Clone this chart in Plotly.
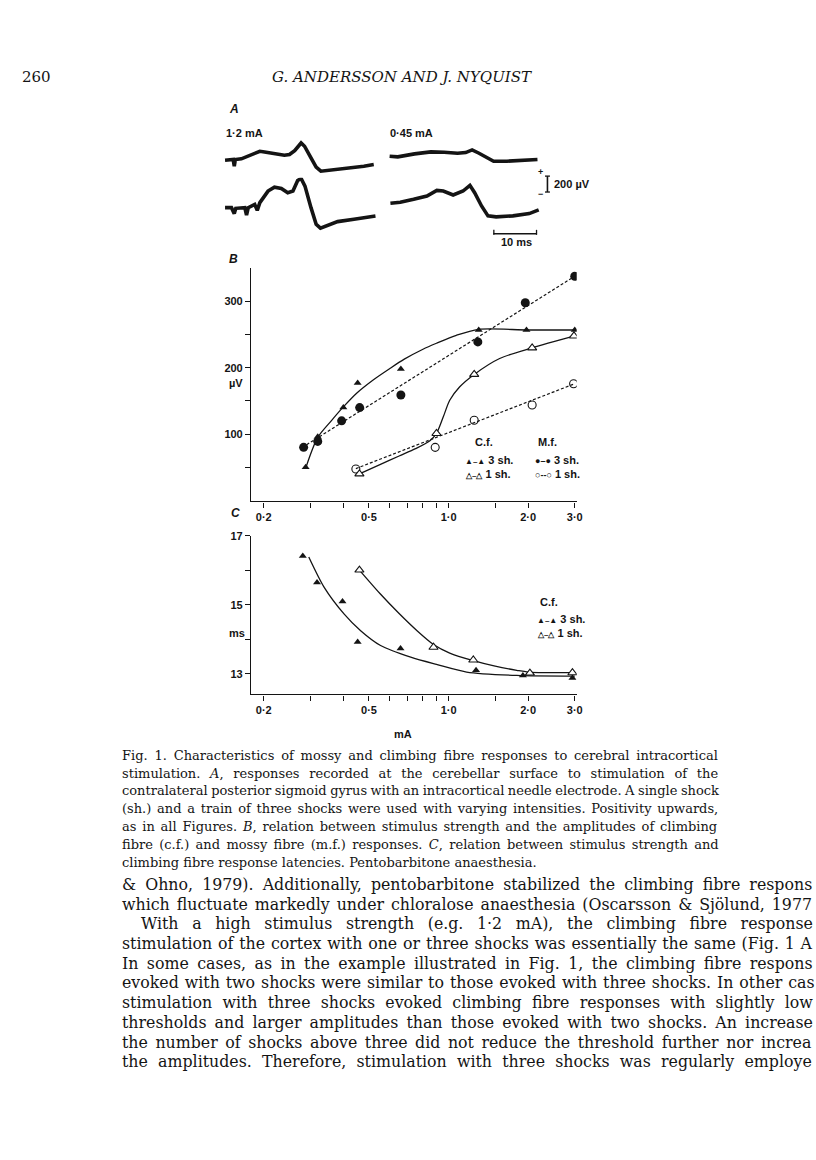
"""Fig. 1 page (Andersson & Nyquist) — mossy/climbing fibre responses vs stimulus strength."""
import plotly.graph_objects as go

W, H = 816, 1160

# --- Panel A: averaged surface recordings (ms, uV) ---
a12_3sh_t = [0, 1.9, 2.15, 2.4, 3.8, 6.2, 8.1, 9.2, 11.5, 13.8, 15.0, 16.2, 17.7, 18.5, 20.0, 21.2, 22.3, 24.6, 28.5, 32.3, 34.6]
a12_3sh_v = [0, 9, -80, 9, 18, 76, 120, 111, 84, 67, 76, 129, 231, 187, 31, -93, -147, -133, -102, -80, -58]
a12_1sh_t = [0, 1.5, 2.15, 2.5, 4.6, 5.0, 5.4, 6.9, 7.5, 8.1, 10.0, 11.5, 13.1, 14.6, 15.8, 16.9, 17.7, 18.6, 20.0, 21.2, 22.2, 23.5, 26.2, 30.0, 35.0]
a12_1sh_v = [0, 0, -80, -9, 0, -98, 0, 44, -36, 67, 222, 275, 258, 200, 222, 364, 391, 289, 0, -222, -275, -244, -187, -155, -111]
a045_3sh_t = [0, 1.9, 5.8, 9.6, 12.7, 15.8, 17.7, 19.2, 20.8, 22.7, 24.2, 27.3, 31.2, 34.4]
a045_3sh_v = [0, -9, 31, 58, 53, 40, 49, 84, 40, -22, -67, -67, -53, -44]
a045_1sh_t = [0, 2.3, 5.4, 8.5, 10.8, 12.3, 14.6, 16.9, 18.5, 19.6, 21.2, 22.7, 24.6, 28.5, 32.3, 34.5]
a045_1sh_v = [0, 13, 53, 98, 173, 164, 111, 164, 240, 142, -36, -169, -182, -169, -138, -89]

# --- Panel B: amplitudes (uV) vs stimulus (mA) ---
cf3_mA = [0.288, 0.32, 0.40, 0.453, 0.66, 1.30, 1.97, 3.0]
cf3_uV = [50, 96, 140, 177, 198, 257, 257, 257]
cf1_mA = [0.46, 0.90, 1.25, 2.07, 2.98]
cf1_uV = [40, 101, 190, 230, 248]
mf3_mA = [0.283, 0.32, 0.394, 0.461, 0.66, 1.29, 1.95, 3.0]
mf3_uV = [80, 89, 120, 140, 159, 239, 298, 338]
mf1_mA = [0.446, 0.89, 1.25, 2.07, 2.97]
mf1_uV = [47.5, 80, 121, 144, 176]

# hand-drawn fit curves
cf3_fit_mA = [0.29, 0.32, 0.36, 0.40, 0.45, 0.52, 0.60, 0.68, 0.80, 0.90, 1.07, 1.30, 2.0, 3.0]
cf3_fit_uV = [52, 95, 120, 141, 162, 182, 199, 213, 228, 237, 249, 258, 257, 257]
cf1_fit_mA = [0.46, 0.55, 0.65, 0.75, 0.85, 0.90, 0.955, 1.01, 1.10, 1.25, 1.56, 2.07, 3.0]
cf1_fit_uV = [40, 54, 67, 78, 90, 101, 126, 151, 171, 190, 214, 230, 248]
mf3_fit_mA = [0.28, 3.0]
mf3_fit_uV = [80, 338]
mf1_fit_mA = [0.446, 3.0]
mf1_fit_uV = [48, 176]

# --- Panel C: latencies (ms) ---
lat3_mA = [0.281, 0.318, 0.397, 0.453, 0.658, 1.27, 1.91, 2.94]
lat3_ms = [16.42, 15.65, 15.10, 13.92, 13.73, 13.10, 12.95, 12.88]
lat1_mA = [0.46, 0.877, 1.24, 2.03, 2.94]
lat1_ms = [16.01, 13.77, 13.40, 13.02, 13.03]
lat3_fit_mA = [0.296, 0.339, 0.403, 0.465, 0.553, 0.719, 0.90, 1.17, 1.81, 3.0]
lat3_fit_ms = [16.39, 15.5, 14.73, 14.25, 13.82, 13.48, 13.27, 13.05, 12.95, 12.93]
lat1_fit_mA = [0.46, 0.55, 0.65, 0.76, 0.877, 1.01, 1.24, 1.5, 1.81, 2.0, 3.0]
lat1_fit_ms = [16.01, 15.33, 14.75, 14.25, 13.85, 13.6, 13.38, 13.22, 13.1, 13.05, 13.03]

x_tickvals = [0.2, 0.3, 0.4, 0.5, 0.6, 0.7, 0.8, 0.9, 1.0, 1.5, 2.0, 3.0]
x_ticktext = ["0·2", "", "", "0·5", "", "", "", "", "1·0", "", "2·0", "3·0"]
b_tickvals = [50, 100, 150, 200, 250, 300]
b_ticktext = ["", "100", "", "200", "", "300"]
c_tickvals = [13, 14, 15, 16, 17]
c_ticktext = ["13", "", "15", "", "17"]

caption = [
    "Fig. 1. Characteristics of mossy and climbing fibre responses to cerebral intracortical",
    "stimulation. <i>A</i>, responses recorded at the cerebellar surface to stimulation of the",
    "contralateral posterior sigmoid gyrus with an intracortical needle electrode. A single shock",
    "(sh.) and a train of three shocks were used with varying intensities. Positivity upwards,",
    "as in all Figures. <i>B</i>, relation between stimulus strength and the amplitudes of climbing",
    "fibre (c.f.) and mossy fibre (m.f.) responses. <i>C</i>, relation between stimulus strength and",
    "climbing fibre response latencies. Pentobarbitone anaesthesia.",
]
body = [
    "& Ohno, 1979). Additionally, pentobarbitone stabilized the climbing fibre respons",
    "which fluctuate markedly under chloralose anaesthesia (Oscarsson & Sjölund, 1977",
    "With a high stimulus strength (e.g. 1·2 mA), the climbing fibre response",
    "stimulation of the cortex with one or three shocks was essentially the same (Fig. 1 A",
    "In some cases, as in the example illustrated in Fig. 1, the climbing fibre respons",
    "evoked with two shocks were similar to those evoked with three shocks. In other cas",
    "stimulation with three shocks evoked climbing fibre responses with slightly low",
    "thresholds and larger amplitudes than those evoked with two shocks. An increase",
    "the number of shocks above three did not reduce the threshold further nor increa",
    "the amplitudes. Therefore, stimulation with three shocks was regularly employe",
]
# extra word spacing (px) so the justified lines reach the right margin
caption_wordspace = [2.7, 5.6, -0.6, 1.6, 1.7, 2.2, 0]
body_wordspace = [4.1, 1.9, 8.6, 0.8, 3.4, 0.9, 5.2, 3.1, 2.5, 5.2]

SANS = "Liberation Sans, Arial, sans-serif"
SERIF = "DejaVu Serif, serif"
INK = "#141414"


def px(x):
    return x / W


def py(y):
    # page pixel rows -> paper fraction (small correction for the page offset)
    return 1 - (y - 4) / H


fig = go.Figure()

# panel B
fig.add_trace(go.Scatter(x=mf3_fit_mA, y=mf3_fit_uV, mode="lines",
                         line=dict(color=INK, width=1.2, dash="3px,2px"), xaxis="x", yaxis="y"))
fig.add_trace(go.Scatter(x=mf1_fit_mA, y=mf1_fit_uV, mode="lines",
                         line=dict(color=INK, width=1.2, dash="3px,2px"), xaxis="x", yaxis="y"))
fig.add_trace(go.Scatter(x=cf3_fit_mA, y=cf3_fit_uV, mode="lines", line_shape="spline",
                         line=dict(color=INK, width=1.3, smoothing=0.8), xaxis="x", yaxis="y"))
fig.add_trace(go.Scatter(x=cf1_fit_mA, y=cf1_fit_uV, mode="lines", line_shape="spline",
                         line=dict(color=INK, width=1.3, smoothing=0.8), xaxis="x", yaxis="y"))
fig.add_trace(go.Scatter(x=mf3_mA, y=mf3_uV, mode="markers",
                         marker=dict(symbol="circle", size=9, color=INK), xaxis="x", yaxis="y"))
fig.add_trace(go.Scatter(x=mf1_mA, y=mf1_uV, mode="markers",
                         marker=dict(symbol="circle-open", size=8, color=INK, line=dict(width=1.1)),
                         xaxis="x", yaxis="y"))
fig.add_trace(go.Scatter(x=cf3_mA, y=cf3_uV, mode="markers",
                         marker=dict(symbol="triangle-up", size=7, color=INK), xaxis="x", yaxis="y"))
fig.add_trace(go.Scatter(x=cf1_mA, y=cf1_uV, mode="markers",
                         marker=dict(symbol="triangle-up", size=8, color="white", line=dict(color=INK, width=1.1)),
                         xaxis="x", yaxis="y"))

# panel C
fig.add_trace(go.Scatter(x=lat3_fit_mA, y=lat3_fit_ms, mode="lines", line_shape="spline",
                         line=dict(color=INK, width=1.3, smoothing=0.8), xaxis="x2", yaxis="y2"))
fig.add_trace(go.Scatter(x=lat1_fit_mA, y=lat1_fit_ms, mode="lines", line_shape="spline",
                         line=dict(color=INK, width=1.3, smoothing=0.8), xaxis="x2", yaxis="y2"))
fig.add_trace(go.Scatter(x=lat3_mA, y=lat3_ms, mode="markers",
                         marker=dict(symbol="triangle-up", size=7, color=INK), xaxis="x2", yaxis="y2"))
fig.add_trace(go.Scatter(x=lat1_mA, y=lat1_ms, mode="markers",
                         marker=dict(symbol="triangle-up", size=8, color="white", line=dict(color=INK, width=1.1)),
                         xaxis="x2", yaxis="y2"))

# panel A traces, one small hidden axis each
traces_A = [
    (a12_3sh_t, a12_3sh_v, 226.7, 159.0),
    (a12_1sh_t, a12_1sh_v, 226.7, 206.7),
    (a045_3sh_t, a045_3sh_v, 392.5, 155.0),
    (a045_1sh_t, a045_1sh_v, 393.3, 202.3),
]
PX_PER_MS = 4.33
A_RANGE_T = [-1.5, 36.6]
A_RANGE_V = [-400, 400]   # 800 uV -> 60 px
layout_axes = {}
for i, (t, v, x0, base) in enumerate(traces_A):
    n = i + 3
    fig.add_trace(go.Scatter(x=t, y=v, mode="lines", line=dict(color=INK, width=3.6),
                             xaxis=f"x{n}", yaxis=f"y{n}"))
    left = x0 + A_RANGE_T[0] * PX_PER_MS
    right = x0 + A_RANGE_T[1] * PX_PER_MS
    layout_axes[f"xaxis{n}"] = dict(domain=[px(left), px(right)], range=A_RANGE_T, visible=False,
                                    anchor=f"y{n}")
    layout_axes[f"yaxis{n}"] = dict(domain=[py(base + 30), py(base - 30)], range=A_RANGE_V,
                                    visible=False, anchor=f"x{n}")

x_range = [-0.7467, 0.4846]
common_x = dict(type="log", range=x_range, domain=[px(253), px(581)], tickvals=x_tickvals,
                ticktext=x_ticktext, ticks="outside", ticklen=5, tickwidth=1.2, tickcolor=INK,
                showline=True, linecolor=INK, linewidth=1.4, showgrid=False, zeroline=False,
                tickfont=dict(family=SANS, size=11, color=INK, weight=600))
common_y = dict(ticks="outside", ticklen=5, tickwidth=1.2, tickcolor=INK, showline=True,
                linecolor=INK, linewidth=1.4, showgrid=False, zeroline=False,
                tickfont=dict(family=SANS, size=11, color=INK, weight=600))

fig.update_layout(
    width=W, height=H, margin=dict(l=0, r=0, t=0, b=0),
    paper_bgcolor="white", plot_bgcolor="rgba(0,0,0,0)", showlegend=False,
    xaxis=dict(common_x, anchor="y"),
    yaxis=dict(common_y, domain=[py(502), py(267)], range=[-1.5, 351], tickvals=b_tickvals,
               ticktext=b_ticktext, anchor="x"),
    xaxis2=dict(common_x, anchor="y2"),
    yaxis2=dict(common_y, domain=[py(696), py(536.7)], range=[12.4, 17], tickvals=c_tickvals,
                ticktext=c_ticktext, anchor="x2"),
    **layout_axes,
)

ann = []


def label(text, x, y, size=11, anchor="left", family=SANS, weight=600, italic=False):
    if italic:
        text = f"<i>{text}</i>"
    ann.append(dict(text=text, x=px(x), y=py(y), xref="paper", yref="paper", showarrow=False,
                    xanchor=anchor, yanchor="middle",
                    font=dict(family=family, size=size, color=INK, weight=weight)))


# header
label("260", 20, 75, size=15, family=SERIF, weight=400)
label("G. ANDERSSON AND J. NYQUIST", 405, 75, size=15, anchor="center", family=SERIF, weight=400,
      italic=True)

# panel A labels and scale bars
label("A", 229, 108, size=12, italic=True, weight=700)
label("1·2 mA", 226, 132)
label("0·45 mA", 391, 132)
label("+", 545, 171, size=9, anchor="center", weight=700)
label("−", 545, 193, size=9, anchor="center", weight=700)
label("200 µV", 556, 183)
label("10 ms", 520, 241, anchor="center")
shapes = [
    dict(type="line", xref="paper", yref="paper", x0=px(497), x1=px(541), y0=py(233), y1=py(233),
         line=dict(color=INK, width=1.5)),
    dict(type="line", xref="paper", yref="paper", x0=px(497.5), x1=px(497.5), y0=py(229), y1=py(234),
         line=dict(color=INK, width=1.3)),
    dict(type="line", xref="paper", yref="paper", x0=px(540.5), x1=px(540.5), y0=py(229), y1=py(234),
         line=dict(color=INK, width=1.3)),
    dict(type="line", xref="paper", yref="paper", x0=px(551.5), x1=px(551.5), y0=py(175), y1=py(191),
         line=dict(color=INK, width=1.6)),
    dict(type="line", xref="paper", yref="paper", x0=px(549), x1=px(554), y0=py(175), y1=py(175),
         line=dict(color=INK, width=1.3)),
    dict(type="line", xref="paper", yref="paper", x0=px(549), x1=px(554), y0=py(191), y1=py(191),
         line=dict(color=INK, width=1.3)),
]

# panel B labels
label("B", 229, 258, size=12, italic=True, weight=700)
label("µV", 229, 383)
label("C.f.", 476, 442)
label("M.f.", 540, 442)
label("<span style='font-size:8px'>▲–▲</span> 3 sh.", 466, 460)
label("<span style='font-size:8px'>△–△</span> 1 sh.", 466, 474)
label("<span style='font-size:9px'>●–●</span> 3 sh.", 537, 460)
label("<span style='font-size:9px'>○--○</span> 1 sh.", 537, 474)

# panel C labels
label("C", 231, 514, size=12, italic=True, weight=700)
label("ms", 229, 634)
label("mA", 406, 736, anchor="center")
label("C.f.", 542, 603)
label("<span style='font-size:8px'>▲–▲</span> 3 sh.", 539, 620)
label("<span style='font-size:8px'>△–△</span> 1 sh.", 539, 634)

# caption and body text (justified by widening the word gaps)
for i, line in enumerate(caption):
    label(f"<span style='word-spacing:{caption_wordspace[i]}px'>{line}</span>", 121, 757 + 18 * i,
          size=13.0, family=SERIF, weight=400)
for i, line in enumerate(body):
    label(f"<span style='word-spacing:{body_wordspace[i]}px'>{line}</span>",
          140 if i == 2 else 121, 887 + 19.8 * i, size=15.8, family=SERIF, weight=400)

fig.update_layout(annotations=ann, shapes=shapes)
fig.write_html("out.html", config={"displayModeBar": False},
               post_script="document.body.style.margin='0';")
